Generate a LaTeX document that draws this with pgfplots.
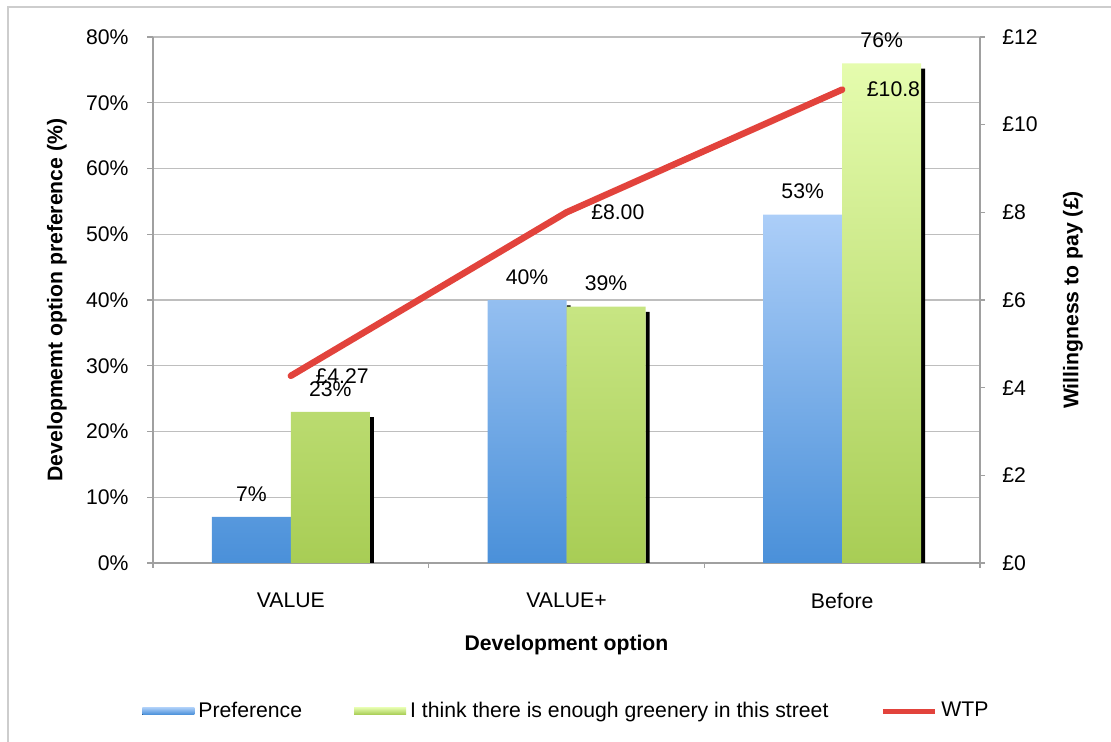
\documentclass[border=0pt]{standalone}
\usepackage{pgfplots}
\pgfplotsset{compat=1.18}
\usepackage{fontspec}
\setmainfont{Liberation Sans}
\definecolor{gridc}{RGB}{190,190,190}
\definecolor{axc}{RGB}{160,160,160}
\definecolor{framec}{RGB}{205,205,205}
\definecolor{btop}{RGB}{172,206,248}
\definecolor{bbot}{RGB}{74,144,217}
\definecolor{gtop}{RGB}{229,252,174}
\definecolor{gbot}{RGB}{168,205,85}
\definecolor{wtp}{RGB}{226,67,60}
\pgfplotsset{
  barleg/.style={legend image code/.code={\fill[##1,draw=none] (0pt,-1.75pt) rectangle (26pt,1.75pt);}},
  lineleg/.style={legend image code/.code={\draw[##1] (0pt,0pt) -- (26pt,0pt);}},
}
\begin{document}
\begin{tikzpicture}[font=\fontsize{10.6pt}{12.7pt}\selectfont]
\path[use as bounding box] (0,0) rectangle (555.5pt,371pt);
\draw[framec, line width=1pt] (4pt,-2pt) -- (4pt,367.5pt) -- (558pt,367.5pt);
\begin{axis}[
  at={(76.5pt,89.5pt)}, anchor=south west,
  scale only axis, width=413.5pt, height=263pt,
  xmin=-0.5, xmax=2.5, ymin=0, ymax=80,
  axis x line*=bottom, axis y line*=left,
  axis line style={axc, line width=0.6pt},
  ytick={0,10,...,80},
  yticklabels={0\%,10\%,20\%,30\%,40\%,50\%,60\%,70\%,80\%},
  ymajorgrids, grid style={gridc, line width=0.6pt},
  tick align=outside, major tick length=3pt,
  tick style={axc, line width=0.6pt},
  xtick={0,1,2}, xticklabels={VALUE,VALUE+,Before},
  major x tick style={draw=none},
  minor xtick={-0.5,0.5,1.5,2.5}, minor tick length=2.5pt,
  minor x tick style={axc, line width=0.6pt},
  yticklabel style={anchor=east, inner sep=0pt, xshift=-9pt},
  xticklabel style={anchor=north, inner sep=0pt, yshift=-12pt},
  /pgf/number format/assume math mode=true,
  ylabel={\bfseries Developmemt option preference (\%)},
  ylabel style={at={(axis description cs:-0.1161,0.5)}, anchor=center, rotate=0},
  xlabel={\bfseries Development option},
  xlabel style={at={(axis description cs:0.5,-0.1559)}, anchor=center},
  legend style={at={(axis description cs:0.5,-0.2814)}, anchor=center, draw=none,
    legend columns=3, nodes={inner sep=1pt},
    /tikz/every even column/.append style={column sep=25pt},
    /tikz/every odd column/.append style={column sep=1pt}},
  legend cell align=left,
]
% blue shadow (hidden mostly)
\addplot[ybar, bar width=2pt, bar shift=1pt, fill=black, draw=none, forget plot]
  coordinates {(0,6.2) (1,39.2) (2,52.2)};
\addplot[ybar, bar width=39.5pt, bar shift=-19.75pt, draw=none,
  top color=btop, bottom color=bbot, barleg,
  point meta=y, nodes near coords={\pgfmathprintnumber{\pgfplotspointmeta}\%},
  every node near coord/.append style={anchor=south, inner sep=0pt, yshift=7.5pt, xshift=-19.75pt, text=black}]
  coordinates {(0,7) (1,40) (2,53)};
\addlegendentry{Preference}
\addplot[ybar, bar width=2pt, bar shift=40.5pt, fill=black, draw=none, forget plot]
  coordinates {(0,22.2) (1,38.2) (2,75.2)};
\addplot[ybar, bar width=39.5pt, bar shift=19.75pt, draw=none,
  top color=gtop, bottom color=gbot, barleg,
  point meta=y, nodes near coords={\pgfmathprintnumber{\pgfplotspointmeta}\%},
  every node near coord/.append style={anchor=south, inner sep=0pt, yshift=7.5pt, xshift=19.75pt, text=black}]
  coordinates {(0,23) (1,39) (2,76)};
\addlegendentry{I think there is enough greenery in this street}
\addlegendimage{wtp, line width=2.5pt, lineleg}
\addlegendentry{WTP}
\end{axis}
\begin{axis}[
  at={(76.5pt,89.5pt)}, anchor=south west,
  scale only axis, width=413.5pt, height=263pt,
  xmin=-0.5, xmax=2.5, ymin=0, ymax=12,
  axis x line=none, axis y line*=right,
  axis line style={axc, line width=0.6pt},
  ytick={0,2,...,12},
  yticklabels={£0,£2,£4,£6,£8,£10,£12},
  tick align=outside, major tick length=2.5pt,
  tick style={axc, line width=0.6pt},
  yticklabel style={anchor=west, inner sep=0pt, xshift=8.5pt},
  ylabel={\bfseries Willingness to pay (£)},
  ylabel style={at={(axis description cs:1.1125,0.5)}, anchor=center, rotate=0},
]
\addplot[wtp, line width=3.25pt, line cap=round, line join=round, mark=none,
  point meta=explicit symbolic, nodes near coords,
  every node near coord/.append style={anchor=west, inner sep=0pt, xshift=10.75pt, text=black}]
  coordinates {(0,4.27) [£4.27] (1,8.00) [£8.00] (2,10.8) [£10.8]};
\end{axis}
\end{tikzpicture}
\end{document}
